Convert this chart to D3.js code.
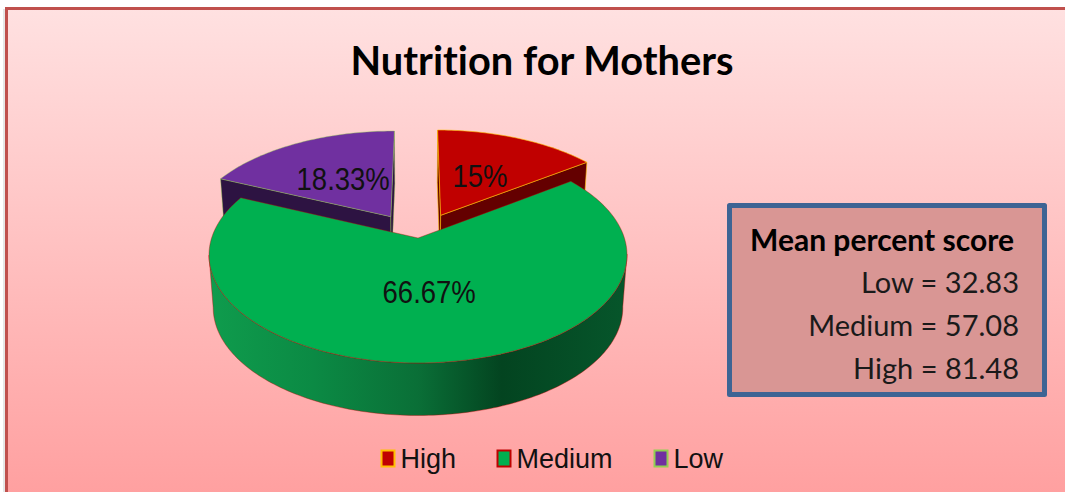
<!DOCTYPE html>
<html>
<head>
<meta charset="utf-8">
<script src="https://cdn.jsdelivr.net/npm/d3@7"></script>
<style>
  html, body { margin: 0; padding: 0; background: #fff; overflow: hidden; }
  svg { display: block; }
  text { font-variant-ligatures: none; }
</style>
</head>
<body>
<div id="chart"></div>
<script>
// data
const title = "Nutrition for Mothers";
const categories = ["High", "Medium", "Low"];
const shares = [15, 66.67, 18.33];
const shareLabels = ["15%", "66.67%", "18.33%"];
const scoreHeading = "Mean percent score";
const scoreNames = ["Low", "Medium", "High"];
const scoreValues = [32.83, 57.08, 81.48];

const width = 1065, height = 492;

const topColor = { High: "#c00000", Medium: "#00b050", Low: "#7030a0" };
const sideColor = { High: "#640000", Low: "#2d1342" };
const edgeColor = { High: "#ffc000", Medium: "#c00000", Low: "#92d050" };
const edgeOpacity = { High: 0.6, Medium: 0.55, Low: 0.4 };

// Perspective of the tilted pie. Disk coordinates are u (right) and v (towards viewer)
const EXPLODE = 0.25;
const LABEL_RADIUS = 0.48;
const tilt = 0.1574;
const centerX = 418, centerY = 238;
const scaleU = 206.4, scaleV = 105.3;
const depth = 52.5;
const shrink = 0.98;

function project(u, v, low) {
  const w = 1 - tilt * v;
  const k = low ? shrink : 1;
  return [
    centerX + k * scaleU * u / w,
    centerY + scaleV * v / w + (low ? depth : 0)
  ];
}

const svg = d3.select("#chart")
  .append("svg")
  .attr("width", width)
  .attr("height", height)
  .attr("viewBox", [0, 0, width, height]);

const defs = svg.append("defs");

const bg = defs.append("linearGradient")
  .attr("id", "bg")
  .attr("x1", 0).attr("y1", 0).attr("x2", 0).attr("y2", 1);
bg.append("stop").attr("offset", "0%").attr("stop-color", "#ffe1e1");
bg.append("stop").attr("offset", "100%").attr("stop-color", "#ff9f9f");

const greenSide = defs.append("linearGradient")
  .attr("id", "greenSide")
  .attr("gradientUnits", "userSpaceOnUse")
  .attr("x1", 209).attr("y1", 0).attr("x2", 627).attr("y2", 0);
[["0%", "#0f9c4d"], ["25%", "#0b8a44"], ["50%", "#0a6f37"], ["70%", "#034420"], ["100%", "#06562b"]]
  .forEach(s => greenSide.append("stop").attr("offset", s[0]).attr("stop-color", s[1]));

// faint shadow left of the frame
svg.append("rect")
  .attr("x", 3).attr("y", 9)
  .attr("width", 2).attr("height", height)
  .attr("fill", "#e6e6e6");

// Chart area and frame
svg.append("rect")
  .attr("x", 6.5).attr("y", 8.5)
  .attr("width", width).attr("height", height)
  .attr("fill", "url(#bg)")
  .attr("stroke", "#c0504d")
  .attr("stroke-width", 3);

svg.append("text")
  .attr("x", 542).attr("y", 75)
  .attr("text-anchor", "middle")
  .attr("font-family", "Lato, 'Open Sans', sans-serif")
  .attr("font-weight", 700)
  .attr("font-size", 39.8)
  .attr("fill", "#000")
  .text(title);

// Pie
const pie = d3.pie().sort(null).value(d => d)(shares);
const slices = pie.map((p, i) => {
  const mid = (p.startAngle + p.endAngle) / 2;
  const off = categories[i] === "Medium" ? 0 : EXPLODE;
  return {
    name: categories[i],
    label: shareLabels[i],
    start: p.startAngle,
    end: p.endAngle,
    mid: mid,
    offU: off * Math.sin(mid),
    offV: -off * Math.cos(mid)
  };
});

const line = d3.line();

function rimPoints(s, low) {
  const n = Math.ceil((s.end - s.start) / 0.02);
  return d3.range(n + 1).map(j => {
    const a = s.start + (s.end - s.start) * j / n;
    return project(s.offU + Math.sin(a), s.offV - Math.cos(a), low);
  });
}

function drawSlice(s) {
  const g = svg.append("g").attr("class", "slice " + s.name);
  const apexTop = project(s.offU, s.offV, false);
  const apexLow = project(s.offU, s.offV, true);
  const top = rimPoints(s, false);
  const low = rimPoints(s, true);
  const isMedium = s.name === "Medium";
  const wall = isMedium ? "url(#greenSide)" : sideColor[s.name];
  const stroke = edgeColor[s.name];
  const sw = isMedium ? 0.7 : 1;
  const so = edgeOpacity[s.name];

  if (isMedium) {
    // only the front of the wall shows, cut it at the left and right tangent points
    // so the silhouette runs straight down from the widest point of the rim
    const from = d3.greatestIndex(top, p => p[0]);
    const to = d3.leastIndex(top, p => p[0]);
    g.append("path")
      .attr("d", line(top.slice(from, to + 1).concat(low.slice(from, to + 1).reverse())) + "Z")
      .attr("fill", wall)
      .attr("stroke", stroke).attr("stroke-width", sw).attr("stroke-opacity", so);
  } else {
    // radial walls, the curved back wall stays hidden behind the top face
    [[top[0], low[0]], [top[top.length - 1], low[low.length - 1]]].forEach(e => {
      g.append("path")
        .attr("d", line([apexTop, e[0], e[1], apexLow]) + "Z")
        .attr("fill", wall)
        .attr("stroke", stroke).attr("stroke-width", sw).attr("stroke-opacity", so);
    });
  }

  // top face
  g.append("path")
    .attr("d", line([apexTop].concat(top)) + "Z")
    .attr("fill", topColor[s.name])
    .attr("stroke", stroke).attr("stroke-width", sw).attr("stroke-opacity", so);
}

// back slices first, the big one sits in front
["Low", "High", "Medium"].forEach(n => drawSlice(slices.find(s => s.name === n)));

// Value labels on the slices, the text is a bit stretched upright in the original
slices.forEach(s => {
  const p = project(
    s.offU + LABEL_RADIUS * Math.sin(s.mid),
    s.offV - LABEL_RADIUS * Math.cos(s.mid),
    false
  );
  svg.append("text")
    .attr("class", "share-label")
    .attr("transform", `translate(${p[0]},${p[1]}) scale(1,1.13)`)
    .attr("y", 9.6)
    .attr("text-anchor", "middle")
    .attr("font-family", "'Liberation Sans', Arial, sans-serif")
    .attr("font-size", 27.5)
    .attr("fill", "#111")
    .text(s.label);
});

// Score box
const box = svg.append("g");
box.append("rect")
  .attr("x", 729.5).attr("y", 205.5)
  .attr("width", 315).attr("height", 189)
  .attr("fill", "#d99694")
  .attr("stroke", "#3e6494")
  .attr("stroke-width", 5)
  .attr("stroke-linejoin", "round");

box.append("text")
  .attr("x", 750).attr("y", 251)
  .attr("font-family", "Lato, 'Open Sans', sans-serif")
  .attr("font-weight", 700)
  .attr("font-size", 30)
  .attr("fill", "#000")
  .text(scoreHeading);

const scoreY = d3.scalePoint().domain(scoreNames).range([293, 379]);
scoreNames.forEach((n, i) => {
  box.append("text")
    .attr("x", 1019).attr("y", scoreY(n))
    .attr("text-anchor", "end")
    .attr("font-family", "Lato, 'Open Sans', sans-serif")
    .attr("font-size", 29)
    .attr("fill", "#1a1a1a")
    .text(`${n} = ${scoreValues[i].toFixed(2)}`);
});

// Legend
const legendX = d3.scaleOrdinal().domain(categories).range([381, 497, 654]);
categories.forEach(c => {
  const g = svg.append("g").attr("transform", `translate(${legendX(c)},450)`);
  g.append("rect")
    .attr("x", 0.5).attr("y", 0.5)
    .attr("width", 13).attr("height", 16)
    .attr("fill", topColor[c])
    .attr("stroke", edgeColor[c])
    .attr("stroke-width", 2);
  g.append("text")
    .attr("x", 19.5).attr("y", 18)
    .attr("font-family", "'Liberation Sans', Arial, sans-serif")
    .attr("font-size", 27)
    .attr("fill", "#111")
    .text(c);
});
</script>
</body>
</html>
